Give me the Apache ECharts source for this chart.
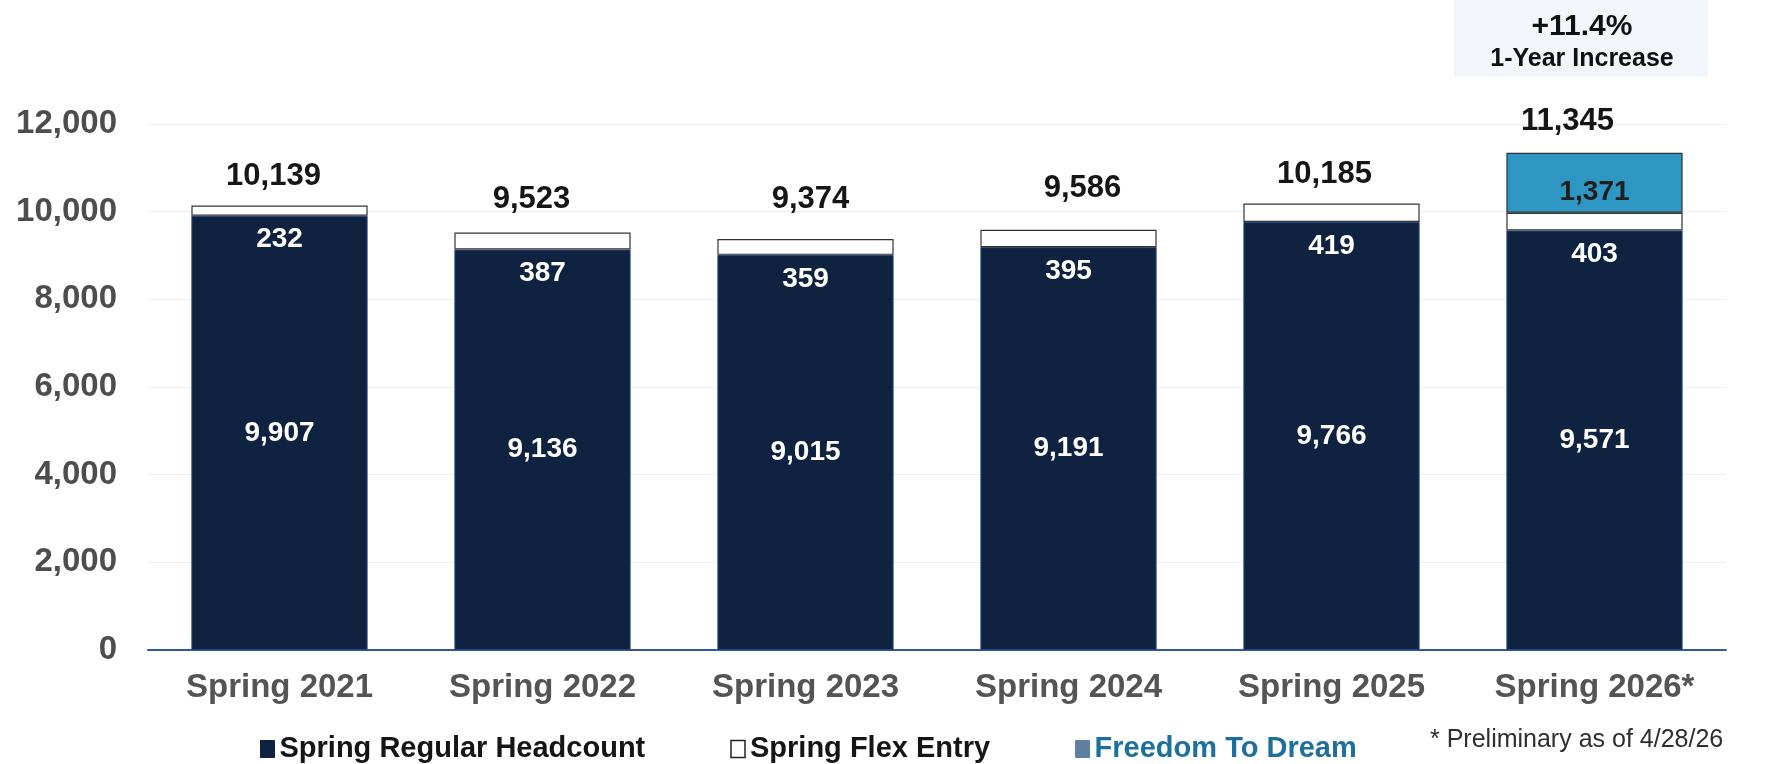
<!DOCTYPE html>
<html>
<head>
<meta charset="utf-8">
<title>Spring Headcount</title>
<script src="https://cdn.jsdelivr.net/npm/echarts@6/dist/echarts.min.js"></script>
<style>
  html, body { margin: 0; padding: 0; background: #ffffff; }
  #chart { width: 1765px; height: 764px; }
</style>
</head>
<body>
<div id="chart"></div>
<script>
// Spring enrollment headcount by term
const terms = ['Spring 2021', 'Spring 2022', 'Spring 2023', 'Spring 2024', 'Spring 2025', 'Spring 2026*'];
const regularHeadcount = [9907, 9136, 9015, 9191, 9766, 9571];
const flexEntry = [232, 387, 359, 395, 419, 403];
const freedomToDream = [null, null, null, null, null, 1371];
const yTicks = [0, 2000, 4000, 6000, 8000, 10000, 12000];
const footnote = '* Preliminary as of 4/28/26';

const seriesNames = ['Spring Regular Headcount', 'Spring Flex Entry', 'Freedom To Dream'];

// Hand-placed nudges for the total labels above each bar (px)
const totalLabelNudge = [[-6, 5], [-11, 1], [5, -5], [14, -7], [-7, 5], [-27, 3]];

// Term totals, stacked from the three components
const totals = terms.map((_, i) => regularHeadcount[i] + flexEntry[i] + (freedomToDream[i] || 0));
const lastIdx = totals.length - 1;
const yearChange = (totals[lastIdx] / totals[lastIdx - 1] - 1) * 100;

const fmt = v => Number(v).toLocaleString('en-US');
const FONT = '"Liberation Sans", Arial, Helvetica, sans-serif';

const NAVY = '#0f2341';
const TEAL = '#2e96c3';

const chart = echarts.init(document.getElementById('chart'), null, { renderer: 'canvas' });

const option = {
  backgroundColor: '#ffffff',
  animation: false,
  textStyle: { fontFamily: FONT },
  grid: {
    left: 148, right: 39, top: 124, bottom: 114,
    containLabel: false,
    outerBoundsMode: 'none'
  },
  legend: {
    left: 255,
    top: 728,
    itemWidth: 14,
    itemHeight: 17,
    itemGap: 85,
    selectedMode: false,
    textStyle: { fontFamily: FONT, fontSize: 29, fontWeight: 'bold', color: '#151515', lineHeight: 32 },
    data: [
      { name: seriesNames[0], icon: 'rect', itemStyle: { color: NAVY, borderColor: NAVY, borderWidth: 1 } },
      { name: seriesNames[1], icon: 'rect', itemStyle: { color: '#ffffff', borderColor: '#222222', borderWidth: 1.5 } },
      { name: seriesNames[2], icon: 'rect', itemStyle: { color: '#5e7f9e', borderColor: '#5e7f9e', borderWidth: 1 },
        textStyle: { color: '#1d6f9c' } }
    ]
  },
  xAxis: {
    type: 'category',
    data: terms,
    axisTick: { show: false },
    axisLine: { show: true, lineStyle: { color: '#2f56a6', width: 2 } },
    axisLabel: {
      margin: 21,
      fontFamily: FONT, fontSize: 33, fontWeight: 'bold', color: '#545454'
    },
    splitLine: { show: false }
  },
  yAxis: {
    type: 'value',
    min: yTicks[0],
    max: yTicks[yTicks.length - 1],
    interval: yTicks[1] - yTicks[0],
    axisLine: { show: false },
    axisTick: { show: false },
    axisLabel: {
      margin: 31,
      fontFamily: FONT, fontSize: 33, fontWeight: 'bold', color: '#4d4d4d',
      formatter: v => fmt(v)
    },
    splitLine: { show: true, lineStyle: { color: '#eeeeee', width: 1 } }
  },
  series: [
    {
      name: seriesNames[0],
      type: 'bar',
      stack: 'term',
      barWidth: '67%',
      data: regularHeadcount,
      itemStyle: { color: NAVY, borderColor: '#23457c', borderWidth: 1 },
      label: {
        show: true, position: 'inside',
        fontFamily: FONT, fontSize: 28, fontWeight: 'bold', color: '#ffffff',
        formatter: p => fmt(p.value)
      }
    },
    {
      name: seriesNames[1],
      type: 'bar',
      stack: 'term',
      data: flexEntry,
      itemStyle: { color: '#ffffff', borderColor: '#333333', borderWidth: 1.2 },
      label: {
        show: true, position: 'bottom', distance: 10,
        fontFamily: FONT, fontSize: 28, fontWeight: 'bold', color: '#ffffff', lineHeight: 28,
        formatter: p => fmt(p.value)
      }
    },
    {
      name: seriesNames[2],
      type: 'bar',
      stack: 'term',
      data: freedomToDream.map(v => (v == null ? '-' : v)),
      itemStyle: { color: TEAL, borderColor: '#333333', borderWidth: 1.2 },
      label: {
        show: true, position: 'inside', offset: [0, 10],
        fontFamily: FONT, fontSize: 28, fontWeight: 'bold', color: '#1e1e1e',
        formatter: p => fmt(p.value)
      }
    },
    {
      // invisible carrier for the term total labels
      name: 'Total',
      type: 'line',
      data: totals.map((v, i) => ({
        value: v,
        label: { offset: totalLabelNudge[i] }
      })),
      symbol: 'circle',
      symbolSize: 1,
      showSymbol: true,
      lineStyle: { width: 0, color: 'rgba(255,255,255,0)' },
      itemStyle: { color: 'rgba(255,255,255,0)', borderWidth: 0 },
      silent: true,
      z: 5,
      label: {
        show: true, position: 'top', distance: 18,
        fontFamily: FONT, fontSize: 31, fontWeight: 'bold', color: '#161616', lineHeight: 32,
        textBorderWidth: 0,
        formatter: p => fmt(p.value)
      }
    }
  ],
  graphic: [
    {
      type: 'rect',
      left: 1454, top: 0,
      shape: { width: 254, height: 77 },
      style: { fill: '#f2f6fb' },
      z: 0
    },
    {
      type: 'text',
      x: 1582, y: 27,
      style: {
        text: '+' + yearChange.toFixed(1) + '%',
        font: 'bold 30px ' + FONT,
        fill: '#111111',
        align: 'center', verticalAlign: 'middle'
      },
      z: 10
    },
    {
      type: 'text',
      x: 1582, y: 59,
      style: {
        text: '1-Year Increase',
        font: 'bold 25px ' + FONT,
        fill: '#111111',
        align: 'center', verticalAlign: 'middle'
      },
      z: 10
    },
    {
      type: 'text',
      x: 1430, y: 740,
      style: {
        text: footnote,
        font: '25px ' + FONT,
        fill: '#2e2e2e',
        align: 'left', verticalAlign: 'middle'
      },
      z: 10
    }
  ]
};

chart.setOption(option);
</script>
</body>
</html>
